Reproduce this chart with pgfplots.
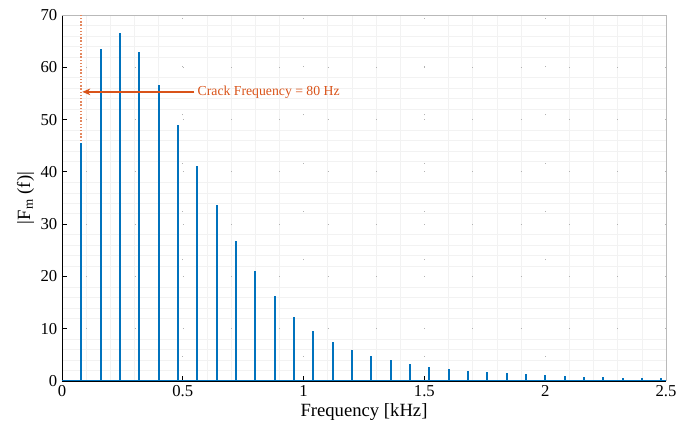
\documentclass[border=0pt]{standalone}
\usepackage{fontspec}
\setmainfont{Liberation Serif}
\usepackage{pgfplots}
\usepackage{pgfplotstable}
\pgfplotsset{compat=1.18}
\usetikzlibrary{arrows.meta}
\definecolor{mblue}{rgb}{0,0.447,0.741}
\definecolor{morange}{rgb}{0.85,0.325,0.098}
\pgfplotstableread{
x y
0.08 45.5
0.16 63.5
0.24 66.5
0.32 63.0
0.40 56.7
0.48 49.0
0.56 41.2
0.64 33.6
0.72 26.8
0.80 21.0
0.88 16.2
0.96 12.3
1.04 9.5
1.12 7.4
1.20 5.9
1.28 4.8
1.36 3.95
1.44 3.25
1.52 2.7
1.60 2.3
1.68 1.97
1.76 1.72
1.84 1.5
1.92 1.3
2.00 1.15
2.08 0.96
2.16 0.83
2.24 0.7
2.32 0.63
2.40 0.57
2.48 0.5
}\spec
\begin{document}
\begin{tikzpicture}
\begin{axis}[
  scale only axis,
  width=453pt, height=274.5pt,
  xmin=0, xmax=2.5, ymin=0, ymax=70,
  axis x line*=bottom, axis y line*=left,
  axis line style={black, line width=0.6pt},
  xtick={0,0.5,...,2.5},
  ytick={0,10,...,70},
  xticklabels={0,0.5,1,1.5,2,2.5},
  minor x tick num=4, minor y tick num=4,
  minor tick length=0pt,
  tick align=inside,
  major tick length=4pt,
  tick style={black, line width=0.6pt},
  grid=both,
  minor grid style={gray!10, line width=0.4pt},
  major grid style={gray!60, line width=0.6pt, dash pattern=on 0.7pt off 35.5pt, dash phase=18pt},
  /pgf/number format/assume math mode=true,
  tick label style={font=\fontsize{12.5}{14}\selectfont},
  every axis label/.append style={font=\fontsize{14}{16}\selectfont},
  xlabel={Frequency [kHz]},
  ylabel={\textbar F\textsubscript{m} (f)\textbar},
  xlabel style={yshift=2pt},
  ylabel style={yshift=-2pt},
  clip=false,
]
\coordinate (bl) at (rel axis cs:0,0);
\coordinate (tr) at (rel axis cs:1,1);
\draw[gray!55, line width=0.6pt] (rel axis cs:0,1) -- (rel axis cs:1,1) -- (rel axis cs:1,0);
\addplot[morange!70, line width=1.4pt, dash pattern=on 1.1pt off 1.3pt] coordinates {(0.08,0) (0.08,70)};
\addplot[mblue, line width=1.4pt] coordinates {(0,0.1) (2.5,0.1)};
\addplot[mblue, line width=1.5pt, ycomb, mark=none] table[x=x, y=y] {\spec};
\draw[morange, line width=1.3pt, -{Stealth[length=6pt,width=5pt]}] (axis cs:0.548,55.3) -- (axis cs:0.084,55.3);
\node[morange, anchor=west, font=\fontsize{10.3}{12}\selectfont, inner sep=1pt] at (axis cs:0.555,55.3) {Crack Frequency = 80 Hz};
\end{axis}
\pgfresetboundingbox
\path ([shift={(-46.5pt,-37.5pt)}]bl) rectangle ([shift={(8.25pt,11.25pt)}]tr);
\end{tikzpicture}
\end{document}
